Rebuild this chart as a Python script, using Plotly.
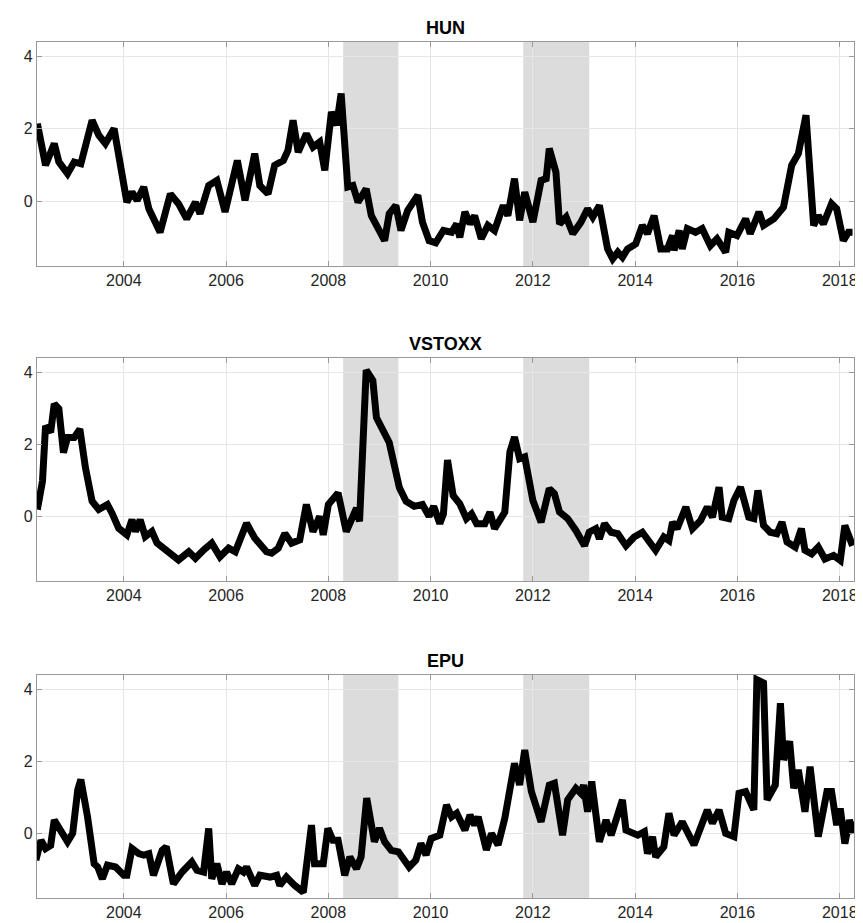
import plotly.graph_objects as go
from plotly.subplots import make_subplots

# decimal years / values
hun_t = [2002.31, 2002.47, 2002.64, 2002.73, 2002.90, 2003.03, 2003.16, 2003.38, 2003.51, 2003.64,
         2003.81, 2004.06, 2004.16, 2004.26, 2004.39, 2004.49, 2004.71, 2004.91, 2005.07, 2005.23,
         2005.40, 2005.49, 2005.66, 2005.82, 2005.98, 2006.08, 2006.22, 2006.37, 2006.56, 2006.66,
         2006.82, 2006.95, 2007.12, 2007.21, 2007.31, 2007.41, 2007.57, 2007.70, 2007.83, 2007.93,
         2008.06, 2008.16, 2008.25, 2008.38, 2008.48, 2008.58, 2008.74, 2008.84, 2009.10, 2009.19,
         2009.32, 2009.42, 2009.55, 2009.75, 2009.84, 2009.97, 2010.10, 2010.25, 2010.41, 2010.51,
         2010.57, 2010.67, 2010.77, 2010.86, 2010.99, 2011.12, 2011.25, 2011.42, 2011.51, 2011.64,
         2011.74, 2011.84, 2012.00, 2012.16, 2012.26, 2012.32, 2012.45, 2012.52, 2012.65, 2012.78,
         2012.94, 2013.07, 2013.17, 2013.30, 2013.46, 2013.56, 2013.66, 2013.75, 2013.85, 2014.01,
         2014.14, 2014.24, 2014.37, 2014.50, 2014.63, 2014.73, 2014.76, 2014.86, 2014.92, 2015.02,
         2015.18, 2015.31, 2015.47, 2015.60, 2015.77, 2015.83, 2015.99, 2016.16, 2016.25, 2016.42,
         2016.51, 2016.71, 2016.90, 2017.06, 2017.19, 2017.34, 2017.49, 2017.58, 2017.68, 2017.84,
         2017.94, 2018.07, 2018.17, 2018.25]
hun_v = [2.14, 0.99, 1.59, 1.08, 0.76, 1.08, 1.03, 2.23, 1.82, 1.59,
         2.00, -0.03, 0.25, 0.02, 0.39, -0.21, -0.86, 0.20, -0.07, -0.49,
         -0.03, -0.35, 0.43, 0.57, -0.30, 0.39, 1.12, 0.02, 1.31, 0.43,
         0.20, 0.99, 1.12, 1.40, 2.23, 1.35, 1.86, 1.49, 1.63, 0.85,
         2.46, 2.09, 2.97, 0.39, 0.43, -0.03, 0.34, -0.40, -1.09, -0.35,
         -0.12, -0.81, -0.26, 0.16, -0.58, -1.09, -1.15, -0.81, -0.86, -0.63,
         -1.00, -0.30, -0.63, -0.40, -1.04, -0.67, -0.81, -0.12, -0.40, 0.62,
         -0.53, 0.25, -0.58, 0.57, 0.62, 1.45, 0.80, -0.63, -0.44, -0.90,
         -0.58, -0.21, -0.44, -0.12, -1.32, -1.59, -1.41, -1.55, -1.32, -1.18,
         -0.67, -0.90, -0.40, -1.32, -1.32, -0.95, -1.36, -0.81, -1.32, -0.76,
         -0.86, -0.76, -1.23, -1.04, -1.41, -0.86, -0.95, -0.49, -0.90, -0.30,
         -0.67, -0.49, -0.17, 0.99, 1.31, 2.37, -0.67, -0.40, -0.63, -0.07,
         -0.21, -1.09, -0.86, -0.86]

vst_t = [2002.31, 2002.41, 2002.47, 2002.57, 2002.64, 2002.73, 2002.82, 2002.90, 2003.03, 2003.14,
         2003.25, 2003.38, 2003.51, 2003.68, 2003.77, 2003.90, 2004.06, 2004.16, 2004.23, 2004.32,
         2004.42, 2004.55, 2004.65, 2004.78, 2004.91, 2005.07, 2005.27, 2005.40, 2005.56, 2005.72,
         2005.88, 2006.05, 2006.18, 2006.40, 2006.56, 2006.79, 2006.89, 2007.02, 2007.15, 2007.28,
         2007.44, 2007.57, 2007.70, 2007.83, 2007.90, 2008.00, 2008.19, 2008.35, 2008.55, 2008.61,
         2008.74, 2008.87, 2008.94, 2009.13, 2009.19, 2009.39, 2009.52, 2009.68, 2009.84, 2009.97,
         2010.06, 2010.18, 2010.25, 2010.33, 2010.44, 2010.57, 2010.70, 2010.80, 2010.90, 2011.06,
         2011.16, 2011.25, 2011.45, 2011.55, 2011.64, 2011.74, 2011.84, 2012.00, 2012.16, 2012.32,
         2012.42, 2012.52, 2012.68, 2012.84, 2013.01, 2013.10, 2013.23, 2013.30, 2013.40, 2013.53,
         2013.66, 2013.82, 2013.98, 2014.14, 2014.40, 2014.56, 2014.66, 2014.73, 2014.82, 2014.99,
         2015.12, 2015.28, 2015.41, 2015.51, 2015.64, 2015.70, 2015.83, 2015.93, 2016.06, 2016.22,
         2016.32, 2016.40, 2016.51, 2016.64, 2016.77, 2016.87, 2016.97, 2017.13, 2017.25, 2017.32,
         2017.45, 2017.58, 2017.71, 2017.88, 2018.01, 2018.10, 2018.17, 2018.25]
vst_v = [0.19, 0.98, 2.51, 2.33, 3.12, 2.98, 1.77, 2.19, 2.19, 2.42,
         1.35, 0.42, 0.19, 0.33, 0.09, -0.33, -0.51, -0.09, -0.42, -0.09,
         -0.56, -0.42, -0.74, -0.88, -1.07, -1.21, -0.98, -1.16, -0.93, -0.74,
         -1.12, -0.88, -0.98, -0.19, -0.60, -0.98, -1.02, -0.88, -0.47, -0.74,
         -0.65, 0.33, -0.42, 0.00, -0.51, 0.33, 0.65, -0.42, 0.23, -0.14,
         4.05, 3.77, 2.74, 2.19, 2.05, 0.79, 0.42, 0.28, 0.33, 0.00,
         0.28, -0.20, 0.07, 1.56, 0.58, 0.35, -0.06, 0.07, -0.20, -0.20,
         0.12, -0.34, 0.12, 1.79, 2.20, 1.60, 1.65, 0.44, -0.16, 0.77,
         0.63, 0.12, -0.06, -0.39, -0.81, -0.44, -0.34, -0.62, -0.20, -0.44,
         -0.48, -0.81, -0.57, -0.44, -0.94, -0.57, -0.67, -0.16, -0.34, 0.26,
         -0.34, -0.11, 0.26, -0.02, 0.81, -0.02, -0.06, 0.44, 0.81, -0.02,
         -0.06, 0.72, -0.25, -0.44, -0.48, -0.16, -0.71, -0.85, -0.34, -0.94,
         -1.04, -0.85, -1.18, -1.08, -1.22, -0.25, -0.57, -0.81]

epu_t = [2002.28, 2002.38, 2002.47, 2002.57, 2002.64, 2002.77, 2002.90, 2003.00, 2003.10, 2003.16,
         2003.29, 2003.42, 2003.49, 2003.58, 2003.68, 2003.84, 2004.00, 2004.06, 2004.16, 2004.29,
         2004.39, 2004.49, 2004.58, 2004.75, 2004.83, 2004.97, 2005.14, 2005.33, 2005.43, 2005.56,
         2005.66, 2005.72, 2005.82, 2005.92, 2006.01, 2006.11, 2006.24, 2006.34, 2006.40, 2006.56,
         2006.66, 2006.86, 2006.99, 2007.05, 2007.18, 2007.34, 2007.51, 2007.67, 2007.73, 2007.90,
         2007.99, 2008.09, 2008.19, 2008.32, 2008.42, 2008.55, 2008.64, 2008.75, 2008.90, 2009.00,
         2009.10, 2009.23, 2009.37, 2009.58, 2009.71, 2009.81, 2009.91, 2010.01, 2010.18, 2010.31,
         2010.41, 2010.51, 2010.67, 2010.77, 2010.86, 2010.93, 2011.09, 2011.19, 2011.32, 2011.45,
         2011.64, 2011.74, 2011.84, 2011.97, 2012.16, 2012.32, 2012.42, 2012.58, 2012.68, 2012.84,
         2012.94, 2012.99, 2013.07, 2013.15, 2013.30, 2013.43, 2013.53, 2013.75, 2013.82, 2014.05,
         2014.18, 2014.24, 2014.34, 2014.40, 2014.56, 2014.66, 2014.76, 2014.92, 2015.15, 2015.41,
         2015.51, 2015.64, 2015.77, 2015.93, 2016.03, 2016.16, 2016.32, 2016.38, 2016.51, 2016.58,
         2016.74, 2016.84, 2016.90, 2017.02, 2017.10, 2017.19, 2017.32, 2017.42, 2017.58, 2017.75,
         2017.84, 2017.94, 2018.01, 2018.10, 2018.19, 2018.28]
epu_v = [-0.74, -0.19, -0.42, -0.33, 0.37, 0.09, -0.23, 0.00, 1.21, 1.49,
         0.47, -0.84, -0.93, -1.26, -0.88, -0.93, -1.16, -1.16, -0.42, -0.56,
         -0.60, -0.56, -1.16, -0.47, -0.37, -1.40, -1.07, -0.79, -1.02, -1.07,
         0.14, -1.26, -0.84, -1.40, -1.07, -1.40, -0.98, -1.07, -0.93, -1.44,
         -1.16, -1.21, -1.16, -1.44, -1.21, -1.44, -1.63, 0.23, -0.84, -0.84,
         0.14, -0.19, -0.19, -1.16, -0.65, -0.98, -0.65, 0.98, -0.23, 0.14,
         -0.23, -0.47, -0.51, -0.93, -0.74, -0.28, -0.60, -0.14, -0.05, 0.79,
         0.46, 0.56, 0.09, 0.51, 0.23, 0.46, -0.46, 0.00, -0.32, 0.42,
         1.94, 1.34, 2.31, 1.16, 0.32, 1.34, 1.39, -0.05, 0.93, 1.25,
         1.11, 1.34, 0.60, 1.44, -0.23, 0.37, -0.05, 0.93, 0.09, -0.05,
         0.05, -0.56, -0.09, -0.65, -0.37, 0.56, -0.05, 0.32, -0.32, 0.65,
         0.28, 0.65, 0.00, -0.09, 1.11, 1.16, 0.65, 4.26, 4.17, 0.93,
         1.34, 3.61, 2.04, 2.55, 1.25, 1.76, 0.60, 1.85, -0.09, 1.16,
         1.16, 0.23, 0.69, -0.28, 0.37, 0.00]

names = ['HUN', 'VSTOXX', 'EPU']
series = [(hun_t, hun_v), (vst_t, vst_v), (epu_t, epu_v)]
recessions = [(2008.29, 2009.37), (2011.81, 2013.10)]
tick_years = [2004, 2006, 2008, 2010, 2012, 2014, 2016, 2018]

W, H = 863, 923
fig = make_subplots(rows=3, cols=1)
# pixel boxes of each axes (top, bottom)
boxes = [(34, 258), (350, 573), (667, 890)]
tfont = dict(family='Liberation Sans, Arial', size=16, color='#262626')

for i, ((t, v), name) in enumerate(zip(series, names)):
    r = i + 1
    fig.add_trace(go.Scatter(x=t, y=v, mode='lines', line=dict(color='black', width=7),
                             showlegend=False), row=r, col=1)
    for a, b in recessions:
        fig.add_vrect(x0=a, x1=b, fillcolor='#dcdcdc', opacity=1, line_width=0,
                      layer='below', row=r, col=1)
    top, bot = boxes[i]
    fig.update_xaxes(range=[2002.30, 2018.28], tickvals=tick_years, ticks='inside', ticklen=5,
                     showgrid=True, gridcolor='#e6e6e6', showline=True, linecolor='#999999',
                     mirror='ticks', tickcolor='#999999', zeroline=False, tickfont=tfont,
                     domain=[29 / W, 850 / W], row=r, col=1)
    fig.update_yaxes(range=[-1.79, 4.39], tickvals=[0, 2, 4], ticks='inside', ticklen=5,
                     showgrid=True, gridcolor='#e6e6e6', showline=True, linecolor='#999999',
                     mirror='ticks', tickcolor='#999999', zeroline=False, tickfont=tfont,
                     domain=[1 - bot / H, 1 - top / H], row=r, col=1)
    fig.add_annotation(text='<b>' + name + '</b>', x=(29 + 850) / 2 / W, y=1 - top / H,
                       xref='paper', yref='paper', yanchor='bottom', showarrow=False, yshift=2,
                       font=dict(family='Liberation Sans, Arial', size=18, color='black'))

fig.update_layout(width=W, height=H, margin=dict(l=0, r=0, t=0, b=0),
                  plot_bgcolor='white', paper_bgcolor='white')
fig.write_html("out.html")
